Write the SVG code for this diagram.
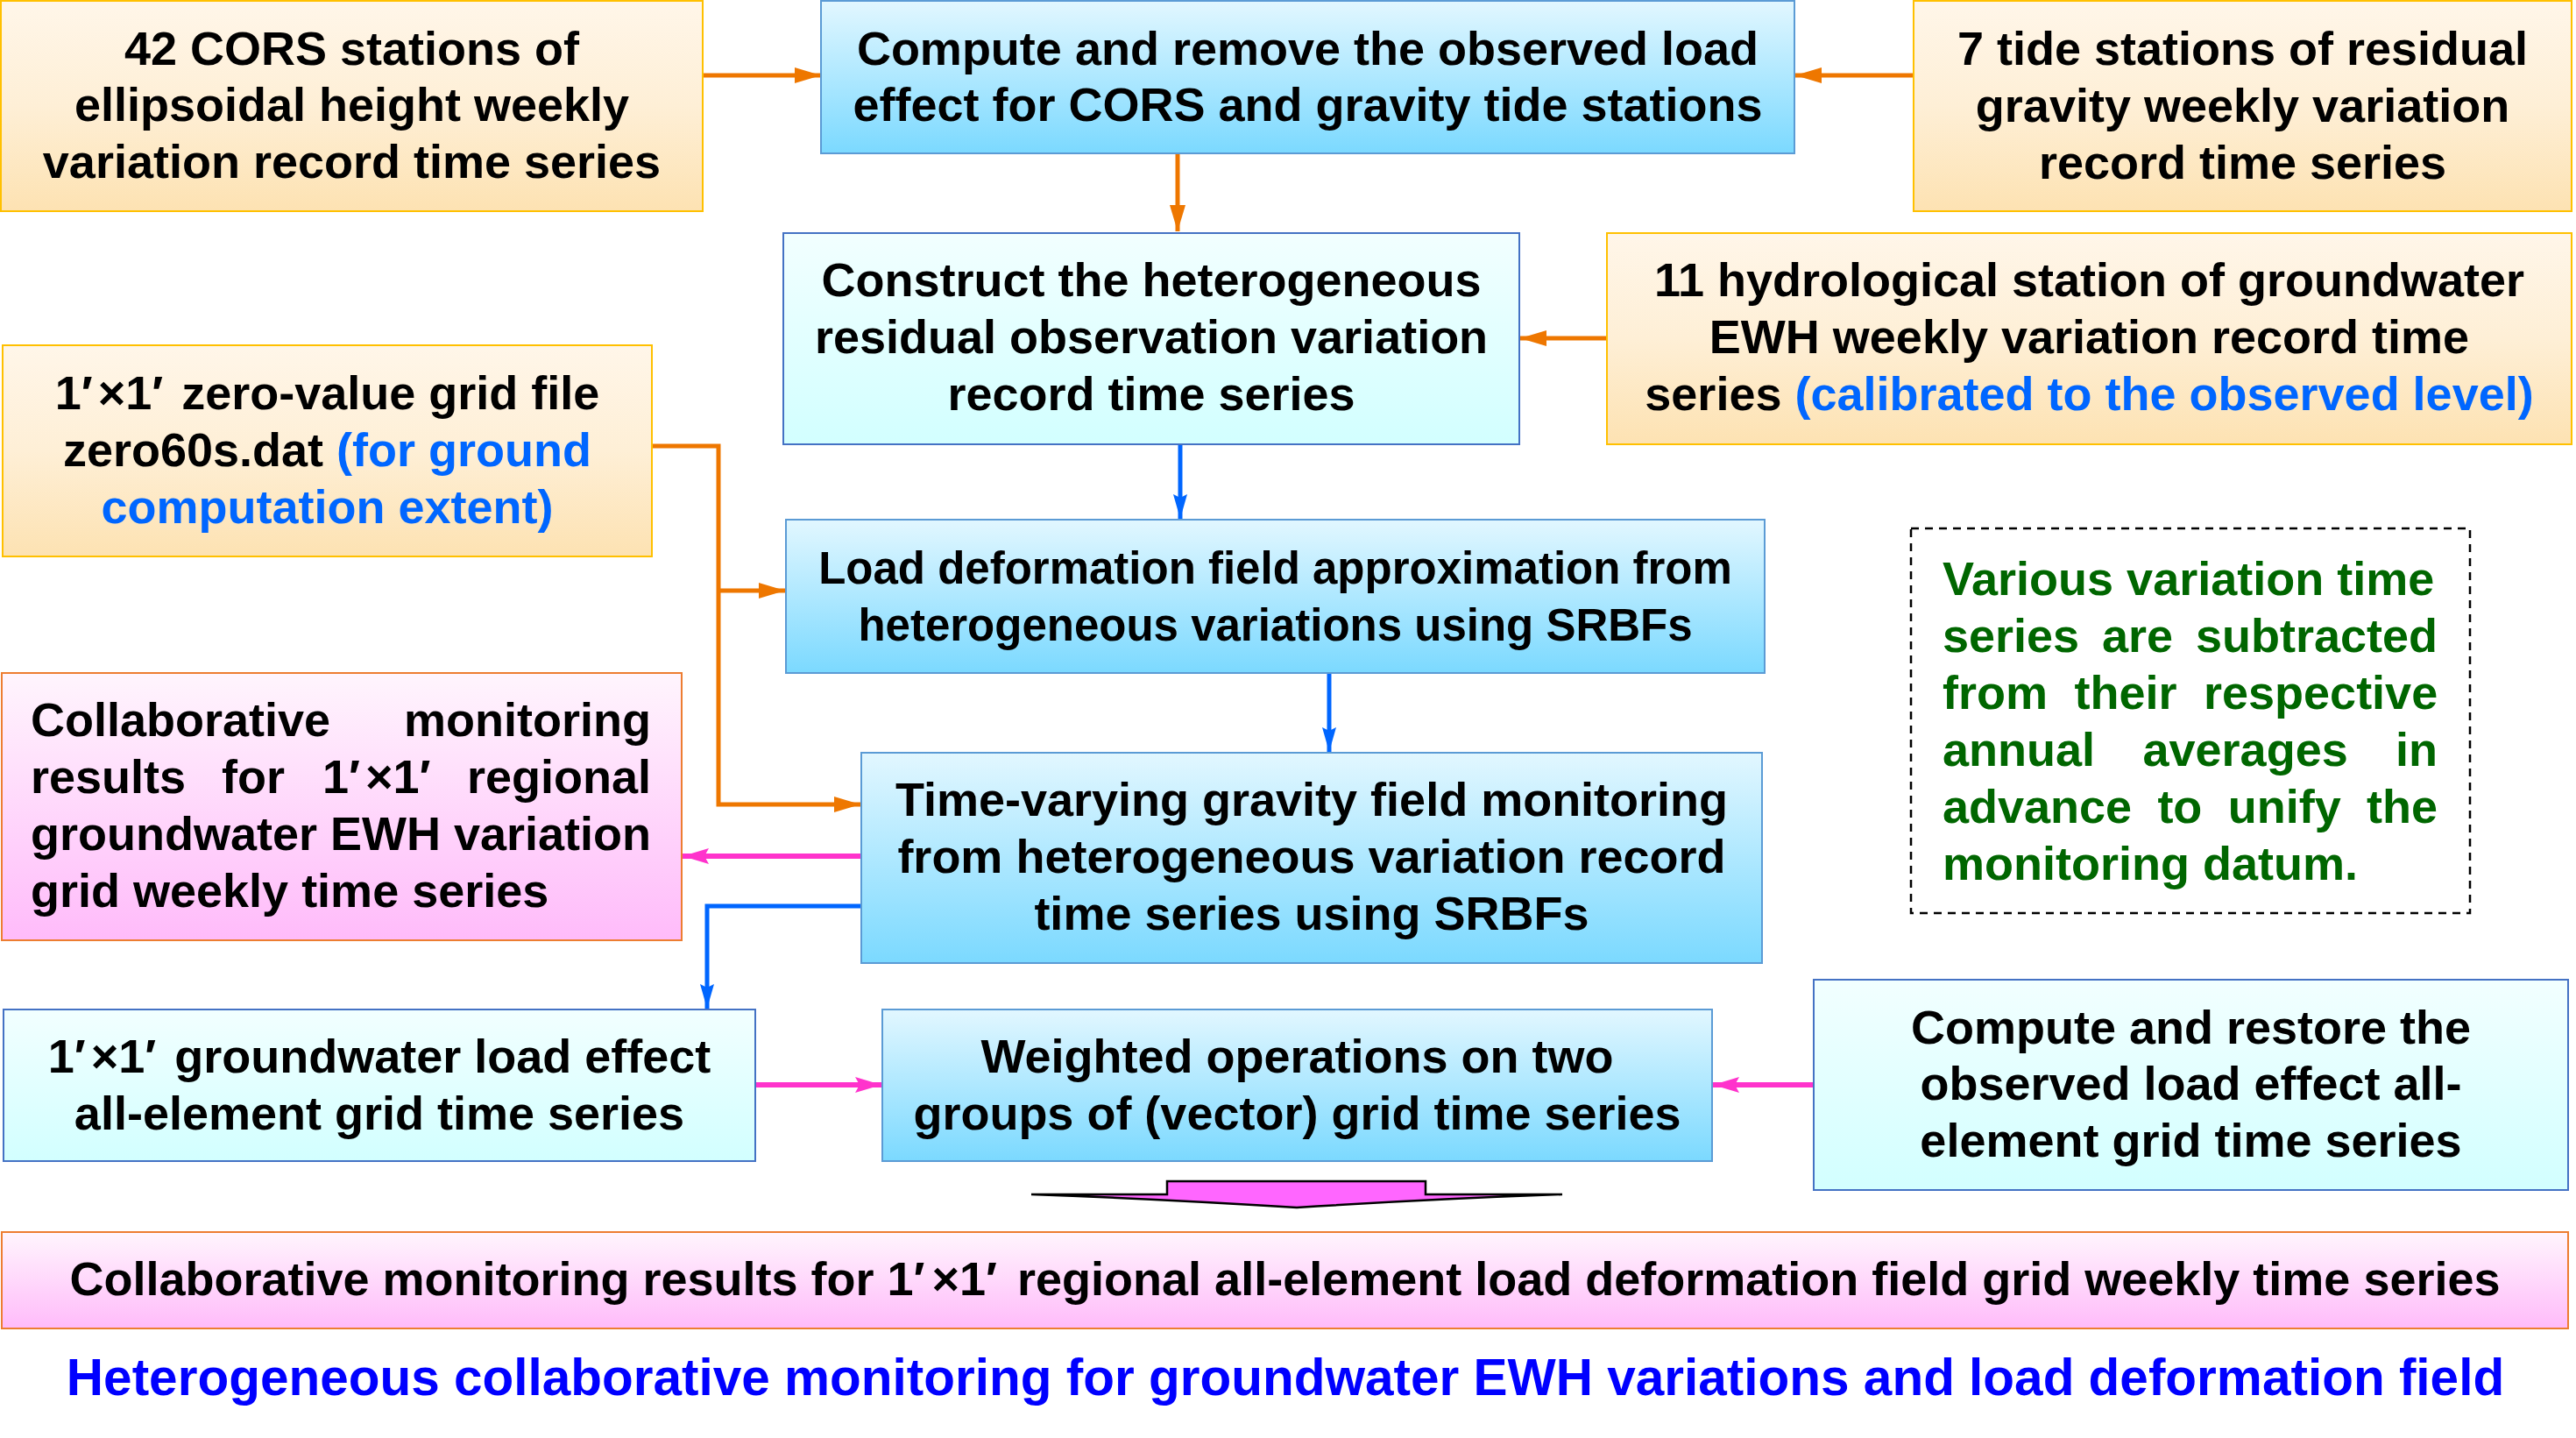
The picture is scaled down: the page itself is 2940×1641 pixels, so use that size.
<svg xmlns="http://www.w3.org/2000/svg" width="2940" height="1641" viewBox="0 0 2940 1641">
<defs>
<linearGradient id="gOr" x1="0" y1="0" x2="0" y2="1"><stop offset="0" stop-color="#FFF6E9"/><stop offset="0.5" stop-color="#FEEFD6"/><stop offset="1" stop-color="#FDE2B2"/></linearGradient>
<linearGradient id="gBl" x1="0" y1="0" x2="0" y2="1"><stop offset="0" stop-color="#E2F7FF"/><stop offset="1" stop-color="#7BD9FF"/></linearGradient>
<linearGradient id="gCy" x1="0" y1="0" x2="0" y2="1"><stop offset="0" stop-color="#F2FFFF"/><stop offset="1" stop-color="#D2FFFF"/></linearGradient>
<linearGradient id="gPk" x1="0" y1="0" x2="0" y2="1"><stop offset="0" stop-color="#FFF5FD"/><stop offset="1" stop-color="#FFBBFA"/></linearGradient>
<marker id="aOr" markerUnits="userSpaceOnUse" markerWidth="30" markerHeight="18" refX="30" refY="9" orient="auto"><path d="M0,0 L30,9 L0,18 z" fill="#EE7700"/></marker>
<marker id="aBl" markerUnits="userSpaceOnUse" markerWidth="28" markerHeight="16" refX="28" refY="8" orient="auto"><path d="M0,0 L28,8 L0,16 L4,8 z" fill="#0066FF"/></marker>
<marker id="aPk" markerUnits="userSpaceOnUse" markerWidth="30" markerHeight="18" refX="30" refY="9" orient="auto"><path d="M0,0 L30,9 L0,18 L5,9 z" fill="#FF33CC"/></marker>
</defs>
<style>
.t{font-family:"Liberation Sans",Arial,sans-serif;font-weight:bold;font-size:54px;fill:#000}
.c{text-anchor:middle}
.bl{fill:#0066FF}
.gr{fill:#006600}
.or{fill:url(#gOr);stroke:#FFC000;stroke-width:2}
.bb{fill:url(#gBl);stroke:#5B9BD5;stroke-width:2}
.cy{fill:url(#gCy);stroke:#4472C4;stroke-width:2}
.pk{fill:url(#gPk);stroke:#ED7D31;stroke-width:2}
.lo{fill:none;stroke:#EE7700;stroke-width:5}
.lb{fill:none;stroke:#0066FF;stroke-width:5}
.lp{fill:none;stroke:#FF33CC;stroke-width:6}
</style>
<rect width="2940" height="1641" fill="#FFFFFF"/>

<g id="connectors">
<line class="lo" x1="802" y1="86" x2="937" y2="86" marker-end="url(#aOr)"/>
<line class="lo" x1="2184" y1="86" x2="2049" y2="86" marker-end="url(#aOr)"/>
<line class="lo" x1="1344" y1="175" x2="1344" y2="264" marker-end="url(#aOr)"/>
<line class="lo" x1="1834" y1="386" x2="1735" y2="386" marker-end="url(#aOr)"/>
<line class="lb" x1="1347" y1="507" x2="1347" y2="592" marker-end="url(#aBl)"/>
<polyline class="lo" points="744,509 820,509 820,918 982,918" marker-end="url(#aOr)"/>
<line class="lo" x1="820" y1="674" x2="896" y2="674" marker-end="url(#aOr)"/>
<line class="lb" x1="1517" y1="768" x2="1517" y2="858" marker-end="url(#aBl)"/>
<line class="lp" x1="983" y1="977" x2="779" y2="977" marker-end="url(#aPk)"/>
<polyline class="lb" points="983,1034 807,1034 807,1151" marker-end="url(#aBl)"/>
<line class="lp" x1="862" y1="1238" x2="1006" y2="1238" marker-end="url(#aPk)"/>
<line class="lp" x1="2070" y1="1238" x2="1955" y2="1238" marker-end="url(#aPk)"/>
<path d="M1332,1348 L1627,1348 L1627,1363 L1783,1363 Q1640,1368 1480,1378 Q1320,1368 1177,1363 L1332,1363 Z" fill="#FF66FF" stroke="#000" stroke-width="2.5" stroke-linejoin="miter"/>
</g>

<g id="n-cors">
<rect class="or" x="1" y="1" width="801" height="240"/>
<text class="t c" x="401.5" y="74">42 CORS stations of</text>
<text class="t c" x="401.5" y="138">ellipsoidal height weekly</text>
<text class="t c" x="401.5" y="203">variation record time series</text>
</g>

<g id="n-remove">
<rect class="bb" x="937" y="1" width="1111" height="174"/>
<text class="t c" x="1492.5" y="74">Compute and remove the observed load</text>
<text class="t c" x="1492.5" y="138">effect for CORS and gravity tide stations</text>
</g>

<g id="n-tide">
<rect class="or" x="2184" y="1" width="751" height="240"/>
<text class="t c" x="2559.5" y="74">7 tide stations of residual</text>
<text class="t c" x="2559.5" y="139">gravity weekly variation</text>
<text class="t c" x="2559.5" y="204">record time series</text>
</g>

<g id="n-construct">
<rect class="cy" x="894" y="266" width="840" height="241"/>
<text class="t c" x="1314" y="338">Construct the heterogeneous</text>
<text class="t c" x="1314" y="403">residual observation variation</text>
<text class="t c" x="1314" y="468">record time series</text>
</g>

<g id="n-hydro">
<rect class="or" x="1834" y="266" width="1101" height="241"/>
<text class="t c" x="2384.5" y="338">11 hydrological station of groundwater</text>
<text class="t c" x="2384.5" y="403">EWH weekly variation record time</text>
<text class="t c" x="2384.5" y="468">series <tspan class="bl">(calibrated to the observed level)</tspan></text>
</g>

<g id="n-zero">
<rect class="or" x="3" y="394" width="741" height="241"/>
<text class="t c" x="373.5" y="467">1′<tspan dx="6">×</tspan>1′<tspan dx="6"> zero-value grid file</tspan></text>
<text class="t c" x="373.5" y="532">zero60s.dat <tspan class="bl">(for ground</tspan></text>
<text class="t c bl" x="373.5" y="597">computation extent)</text>
</g>

<g id="n-approx">
<rect class="bb" x="897" y="593" width="1117" height="175"/>
<text class="t c" x="1455.5" y="666" style="font-size:51px">Load deformation field approximation from</text>
<text class="t c" x="1455.5" y="731" style="font-size:51px">heterogeneous variations using SRBFs</text>
</g>

<g id="n-note">
<rect x="2181" y="603" width="638" height="439" fill="none" stroke="#000" stroke-width="2.5" stroke-dasharray="9,7"/>
<text class="t gr" y="679"><tspan x="2217">Various variation time</tspan></text>
<text class="t gr" y="744"><tspan x="2217">series</tspan><tspan x="2399">are</tspan><tspan x="2506">subtracted</tspan></text>
<text class="t gr" y="809"><tspan x="2217">from</tspan><tspan x="2367.5">their</tspan><tspan x="2515">respective</tspan></text>
<text class="t gr" y="874"><tspan x="2217">annual</tspan><tspan x="2445.5">averages</tspan><tspan x="2734">in</tspan></text>
<text class="t gr" y="939"><tspan x="2217">advance</tspan><tspan x="2462.4">to</tspan><tspan x="2542.7">unify</tspan><tspan x="2701">the</tspan></text>
<text class="t gr" y="1004"><tspan x="2217">monitoring datum.</tspan></text>
</g>

<g id="n-gravity">
<rect class="bb" x="983" y="859" width="1028" height="240"/>
<text class="t c" x="1497" y="931">Time-varying gravity field monitoring</text>
<text class="t c" x="1497" y="996">from heterogeneous variation record</text>
<text class="t c" x="1497" y="1061">time series using SRBFs</text>
</g>

<g id="n-ewh">
<rect class="pk" x="2" y="768" width="776" height="305"/>
<text class="t" y="840"><tspan x="35">Collaborative</tspan><tspan x="461">monitoring</tspan></text>
<text class="t" y="905"><tspan x="35">results</tspan><tspan x="253">for</tspan><tspan x="368">1′</tspan><tspan dx="6">×</tspan>1′<tspan x="533">regional</tspan></text>
<text class="t" y="970"><tspan x="35">groundwater EWH variation</tspan></text>
<text class="t" y="1035"><tspan x="35">grid weekly time series</tspan></text>
</g>

<g id="n-gwload">
<rect class="cy" x="4" y="1152" width="858" height="173"/>
<text class="t c" x="433" y="1224">1′<tspan dx="6">×</tspan>1′<tspan dx="6"> groundwater load effect</tspan></text>
<text class="t c" x="433" y="1289">all-element grid time series</text>
</g>

<g id="n-weighted">
<rect class="bb" x="1007" y="1152" width="947" height="173"/>
<text class="t c" x="1480.5" y="1224">Weighted operations on two</text>
<text class="t c" x="1480.5" y="1289">groups of (vector) grid time series</text>
</g>

<g id="n-restore">
<rect class="cy" x="2070" y="1118" width="861" height="240"/>
<text class="t c" x="2500.5" y="1191">Compute and restore the</text>
<text class="t c" x="2500.5" y="1255">observed load effect all-</text>
<text class="t c" x="2500.5" y="1320">element grid time series</text>
</g>

<g id="n-result">
<rect class="pk" x="2" y="1406" width="2929" height="110"/>
<text class="t c" x="1466.5" y="1478">Collaborative monitoring results for 1′<tspan dx="8">×</tspan>1′<tspan dx="8"> regional all-element load deformation field grid weekly time series</tspan></text>
</g>

<g id="title">
<text class="t c" x="1467" y="1592" style="font-size:58.5px;fill:#0000FF">Heterogeneous collaborative monitoring for groundwater EWH variations and load deformation field</text>
</g>
</svg>
